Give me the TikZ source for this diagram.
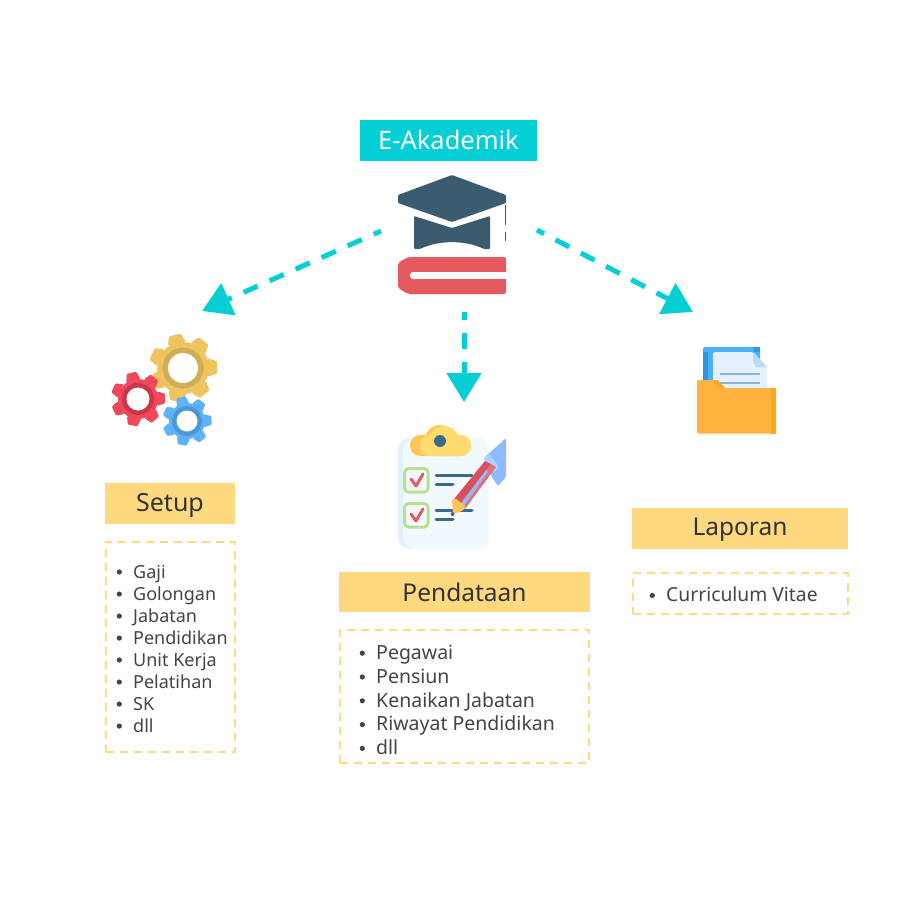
\documentclass[tikz,border=0pt]{standalone}
\usepackage{fontspec}
\setmainfont{Noto Sans}
\usetikzlibrary{arrows.meta}
\definecolor{teal}{HTML}{03CFD4}
\definecolor{headfill}{HTML}{FFD97F}
\definecolor{capblue}{HTML}{3A5C6E}
\definecolor{bookred}{HTML}{E55A5E}
\definecolor{inkgray}{HTML}{444444}
\definecolor{gearyellow}{HTML}{EFC35E}
\definecolor{ringyellow}{HTML}{D2AD55}
\definecolor{gearred}{HTML}{F0485A}
\definecolor{ringred}{HTML}{C93648}
\definecolor{gearblue}{HTML}{5FB2FA}
\definecolor{ringblue}{HTML}{4A98D5}
\definecolor{boardblue}{HTML}{F3FAFF}
\definecolor{boardedge}{HTML}{E1F2FF}
\definecolor{clipdark}{HTML}{FDC757}
\definecolor{clipyellow}{HTML}{FFDB70}
\definecolor{navy}{HTML}{3B6A91}
\definecolor{checkgreen}{HTML}{B7E191}
\definecolor{penblue}{HTML}{8CBBFF}
\definecolor{pendark}{HTML}{D8505C}
\definecolor{penlight}{HTML}{E2707C}
\definecolor{folderback}{HTML}{4DB0FB}
\definecolor{folderdark}{HTML}{2A97E8}
\definecolor{paper}{HTML}{E4F2FF}
\definecolor{paperfold}{HTML}{B8DBF9}
\definecolor{paperline}{HTML}{8AB0E0}
\definecolor{folderfront}{HTML}{FFB33E}
\definecolor{folderedge}{HTML}{FFA51F}

\newcommand{\gearicon}[7]{% x,y,outer,body,ring,fill,ringfill
  \foreach \a in {0,51.43,...,308.6}
    \fill[#6,rounded corners=1pt,rotate around={\a+14:(#1,#2)}] (#1-#3*0.27,#2-#4+1) -- (#1-#3*0.18,#2-#3) -- (#1+#3*0.18,#2-#3) -- (#1+#3*0.27,#2-#4+1) -- cycle;
  \fill[#6] (#1,#2) circle (#4);
  \fill[#7] (#1,#2) circle (#5);
}
\newcommand{\bul}[1]{\makebox[0pt][l]{\hspace{-16.5pt}\raisebox{3.8pt}{\tikz\fill[inkgray] (0,0) circle (2.6pt);}}#1}

\begin{document}
\begin{tikzpicture}[x=1pt,y=-1pt,
    headbox/.style={fill=headfill,text=black!80,inner sep=0pt,text height=17.5pt,text depth=1.5pt},
    listbox/.style={draw=headfill,line width=2pt,dash pattern=on 8pt off 6pt,inner sep=0pt,outer sep=0pt,anchor=north west},
    listtext/.style={align=left,anchor=north west,inner sep=0pt,text=inkgray},
    flow/.style={teal,line width=5pt,dash pattern=on 15.5pt off 13pt,dash phase=7.5pt,-{Triangle[length=29pt,width=34pt]}}]
\useasboundingbox (0,0) rectangle (897,902);
\fill[white] (0,0) rectangle (897,902);

\node[fill=teal,text=white,inner sep=0pt,minimum width=177pt,minimum height=41pt,text height=19pt,text depth=1pt,font=\fontsize{25.5}{28}\selectfont] (akademik) at (448.5,140.5) {E-Akademik};

% cap and book
\fill[capblue,rounded corners=1pt] (398,195) -- (452,175) -- (506,195) -- (506,203) -- (452,222) -- (398,203) -- cycle;
\fill[capblue,rounded corners=1pt] (414,216) -- (452,228) -- (490,216) -- (490,249) -- (484,249) .. controls (465,240) and (439,240) .. (420,249) -- (414,249) -- cycle;
\fill[capblue] (504.5,205) rectangle (506,225);
\fill[capblue] (504.5,232) rectangle (506,241);
\fill[bookred,rounded corners=2pt] (506,257) -- (408,257) -- (398,263) -- (398,288) -- (408,294) -- (506,294) -- cycle;
\fill[white,rounded corners=3pt] (420,272) -- (410,272) -- (410,279) -- (420,279) -- cycle;
\fill[white] (415,272) -- (504,272) -- (504,279) -- (415,279) -- cycle;
\fill[white] (504,272) rectangle (507,279);

\coordinate (capleft) at (381,231);
\coordinate (capbottom) at (464,312);
\coordinate (capright) at (537,230);
\coordinate (gears) at (202,311);
\coordinate (clipboard) at (464,402);
\coordinate (folder) at (693,312);
\draw[flow] (capleft) -- (gears);
\draw[flow] (capbottom) -- (clipboard);
\draw[flow] (capright) -- (folder);

% gears
\gearicon{183}{368}{34}{26}{20.5}{gearyellow}{ringyellow}
\fill[white] (183,368) circle (15);
\gearicon{138}{399}{27}{20}{16}{gearred}{ringred}
\fill[white] (138,399) circle (11.5);
\gearicon{187}{421}{24.5}{18}{15}{gearblue}{ringblue}
\fill[white] (187,421) circle (10.5);

% clipboard
\fill[boardedge,rounded corners=12pt] (398,438) rectangle (489,549);
\fill[boardblue,rounded corners=12pt] (403,438) rectangle (489,549);
\fill[clipdark,rounded corners=10pt] (410,435) rectangle (471,456);
\fill[clipdark] (440,440) circle (15);
\begin{scope}
\clip (420,420) rectangle (475,460);
\fill[clipyellow,rounded corners=10pt] (420,435) rectangle (471,456);
\fill[clipyellow] (444,441) circle (15);
\end{scope}
\fill[navy] (440,441) circle (6);
\draw[checkgreen,line width=3pt,rounded corners=4pt] (404.5,468.5) rectangle (428,492);
\draw[checkgreen,line width=3pt,rounded corners=4pt] (404.5,503.5) rectangle (428,527);
\draw[bookred,line width=3pt,line cap=round,line join=round] (411,479) -- (416,486) -- (423,474);
\draw[bookred,line width=3pt,line cap=round,line join=round] (411,514) -- (416,521) -- (423,509);
\foreach \y/\e in {475/472,484/453,510/472,519/453}
  \draw[navy,line width=3pt,line cap=round] (436,\y) -- (\e,\y);
% pen
\fill[penblue,rounded corners=2pt] (486,456) -- (506,438) -- (506,477) -- (498,486) -- (491,476) -- cycle;
\fill[penblue!70!white,rounded corners=3pt] (483,459) -- (488,453) -- (499,466) -- (494,473) -- cycle;
\fill[pendark] (454,499) -- (485,461) -- (491,464) -- (460,504) -- cycle;
\fill[penlight] (460,504) -- (491,464) -- (496,467) -- (465,509) -- cycle;
\fill[penblue] (461,504) -- (486,470) -- (488,472) -- (464,506) -- cycle;
\fill[clipdark,rounded corners=1pt] (452,500) -- (455,498) -- (466,507) -- (462,511) -- (453,514) -- cycle;
\fill[navy] (452.5,514) circle (2);

% folder
\fill[folderback,rounded corners=2pt] (703,347) rectangle (760,385);
\fill[folderdark] (703,352) rectangle (708,385);
\fill[folderdark] (754,347) rectangle (760,352);
\fill[paper,rounded corners=2pt] (713,352) -- (753,352) -- (767,367) -- (767,392) -- (713,392) -- cycle;
\fill[paperfold] (753,352) -- (767,367) -- (756,367) -- (753,362) -- cycle;
\foreach \y in {374,383}
  \draw[paperline,line width=2pt] (720,\y) -- (760,\y);
\fill[folderfront,rounded corners=1pt] (697,380) -- (717,380) -- (725,388) -- (776,388) -- (776,433.5) -- (697,433.5) -- cycle;
\fill[folderedge] (717,380) -- (725,388) -- (721,388) -- (713,380) -- cycle;
\fill[folderedge] (771,388) rectangle (776,433.5);

% headings and lists
\node[headbox,minimum width=130pt,minimum height=41pt,font=\fontsize{25}{28}\selectfont] (setup) at (170,503) {Setup};
\node[headbox,minimum width=251pt,minimum height=40pt,text height=20pt,text depth=0pt,font=\fontsize{24.5}{28}\selectfont] (pendataan) at (464.5,591.5) {Pendataan};
\node[headbox,minimum width=216pt,minimum height=41pt,text height=16pt,text depth=2pt,font=\fontsize{24.5}{28}\selectfont] (laporan) at (740,528.5) {Laporan};

\node[listbox,minimum width=129pt,minimum height=210.5pt] (setuplist) at (105.5,541.5) {};
\node[listtext,font=\fontsize{18}{22}\selectfont] (setupitems) at (133,565) {\bul{Gaji}\\\bul{Golongan}\\\bul{Jabatan}\\\bul{Pendidikan}\\\bul{Unit Kerja}\\\bul{Pelatihan}\\\bul{SK}\\\bul{dll}};
\node[listbox,minimum width=249pt,minimum height=133pt] (pendataanlist) at (339.5,629.5) {};
\node[listtext,font=\fontsize{19.5}{23.8}\selectfont] (pendataanitems) at (376,645) {\bul{Pegawai}\\\bul{Pensiun}\\\bul{Kenaikan Jabatan}\\\bul{Riwayat Pendidikan}\\\bul{dll}};
\node[listbox,minimum width=215pt,minimum height=40.5pt] (laporanlist) at (632.5,573) {};
\node[listtext,font=\fontsize{19.3}{23.8}\selectfont] (laporanitems) at (666,587) {\bul{Curriculum Vitae}};
\end{tikzpicture}
\end{document}
